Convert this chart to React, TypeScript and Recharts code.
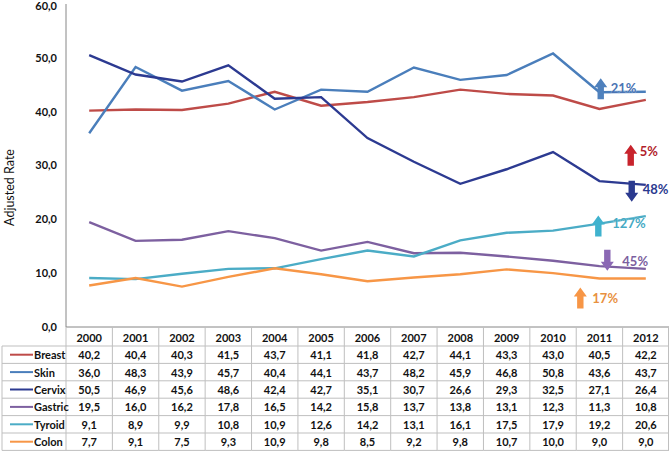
import React from 'react';
import { LineChart, Line, XAxis, YAxis, ReferenceDot } from 'recharts';

const years = ['2000', '2001', '2002', '2003', '2004', '2005', '2006', '2007', '2008', '2009', '2010', '2011', '2012'];
const breast = [40.2, 40.4, 40.3, 41.5, 43.7, 41.1, 41.8, 42.7, 44.1, 43.3, 43.0, 40.5, 42.2];
const skin = [36.0, 48.3, 43.9, 45.7, 40.4, 44.1, 43.7, 48.2, 45.9, 46.8, 50.8, 43.6, 43.7];
const cervix = [50.5, 46.9, 45.6, 48.6, 42.4, 42.7, 35.1, 30.7, 26.6, 29.3, 32.5, 27.1, 26.4];
const gastric = [19.5, 16.0, 16.2, 17.8, 16.5, 14.2, 15.8, 13.7, 13.8, 13.1, 12.3, 11.3, 10.8];
const tyroid = [9.1, 8.9, 9.9, 10.8, 10.9, 12.6, 14.2, 13.1, 16.1, 17.5, 17.9, 19.2, 20.6];
const colon = [7.7, 9.1, 7.5, 9.3, 10.9, 9.8, 8.5, 9.2, 9.8, 10.7, 10.0, 9.0, 9.0];
const yTicks = [0, 10, 20, 30, 40, 50, 60];

const seriesNames = ['Breast', 'Skin', 'Cervix', 'Gastric', 'Tyroid', 'Colon'];
const seriesValues = [breast, skin, cervix, gastric, tyroid, colon];
const seriesColors = ['#BE4B48', '#4A7EBB', '#2C3A91', '#7D60A0', '#4BACC6', '#F79646'];

// change annotations: label, anchor value (at 2011), direction
const annLabels = ['21%', '5%', '48%', '127%', '45%', '17%'];
const annValues = [44.25, 31.9, 25.2, 18.76, 12.39, 5.39];
const annUp = [true, true, false, true, false, true];
const annDx = [1.3, 31.3, 32.3, -1.1, 7.9, -19.1];
const annTextDx = [10, 9, 11, 14, 15, 12];
const annTextDy = [-1, -4.5, -2, -3, 0.5, 0];
const annArrowColors = ['#4F81BD', '#C8232C', '#2B3A8F', '#3FB2CE', '#8B68B4', '#F79646'];
const annTextColors = ['#4A74B4', '#B21E2C', '#2B3A8F', '#46AAC4', '#7C5FA0', '#E8913F'];

const data = years.map((y, i) => {
  const row: any = { year: y };
  seriesNames.forEach((n, s) => {
    row[n] = seriesValues[s][i];
  });
  return row;
});

const CHART_W = 669;
const CHART_H = 451;
const Y_AXIS_W = 66;
const PLOT_W = CHART_W - Y_AXIS_W;
const COL_W = PLOT_W / years.length;
const HEADER_H = 19;
const ROW_H = 17.4;
const BORDER = '#BFBFBF';
const AXIS = '#868686';
const FONT = 'Lato, "DejaVu Sans", sans-serif';

const fmt = (v: number) => v.toFixed(1).replace('.', ',');

const TableTick = (props: any) => {
  const { x, y, payload } = props;
  const i = payload && typeof payload.index === 'number' ? payload.index : years.indexOf(payload.value);
  const left = x - COL_W / 2;
  const right = x + COL_W / 2;
  const bottom = y + HEADER_H + ROW_H * seriesNames.length;
  const items: any[] = [];
  items.push(<line key="vl" x1={left} y1={y} x2={left} y2={bottom} stroke={BORDER} strokeWidth={1} />);
  if (i === years.length - 1) {
    items.push(<line key="vr" x1={right - 0.5} y1={y} x2={right - 0.5} y2={bottom} stroke={BORDER} strokeWidth={1} />);
  }
  items.push(
    <text key="hdr" x={x} y={y + HEADER_H / 2 + 1} textAnchor="middle" dominantBaseline="central"
      fontFamily={FONT} fontWeight={700} fontSize={11} fill="#111">{payload.value}</text>
  );
  for (let r = 0; r <= seriesNames.length; r++) {
    const ly = y + HEADER_H + r * ROW_H;
    items.push(<line key={'h' + r} x1={left} y1={ly} x2={right} y2={ly} stroke={BORDER} strokeWidth={1} />);
  }
  seriesNames.forEach((n, r) => {
    items.push(
      <text key={'v' + r} x={x} y={y + HEADER_H + r * ROW_H + ROW_H / 2} textAnchor="middle" dominantBaseline="central"
        fontFamily={FONT} fontWeight={700} fontSize={11} fill="#111">{fmt(seriesValues[r][i])}</text>
    );
  });
  if (i === 0) {
    const lx = 2;
    items.push(<line key="ll" x1={lx} y1={y + HEADER_H} x2={lx} y2={bottom} stroke={BORDER} strokeWidth={1} />);
    for (let r = 0; r <= seriesNames.length; r++) {
      const ly = y + HEADER_H + r * ROW_H;
      items.push(<line key={'lh' + r} x1={lx} y1={ly} x2={left} y2={ly} stroke={BORDER} strokeWidth={1} />);
    }
    seriesNames.forEach((n, r) => {
      const cy = y + HEADER_H + r * ROW_H + ROW_H / 2;
      items.push(<line key={'lg' + r} x1={lx + 8} y1={cy} x2={lx + 31} y2={cy} stroke={seriesColors[r]} strokeWidth={2} />);
      items.push(
        <text key={'ln' + r} x={lx + 32} y={cy} dominantBaseline="central"
          fontFamily={FONT} fontWeight={700} fontSize={11} fill="#111">{n}</text>
      );
    });
  }
  return <g>{items}</g>;
};

const makeArrowShape = (k: number) => (p: any) => {
  const cx = p.cx + annDx[k];
  const cy = p.cy;
  const h = 21;
  const headH = 9;
  const headW = 6.5;
  const shaftW = 3.2;
  let pts: string;
  if (annUp[k]) {
    const top = cy - h / 2;
    const hb = top + headH;
    const bot = cy + h / 2;
    pts = `${cx},${top} ${cx + headW},${hb} ${cx + shaftW},${hb} ${cx + shaftW},${bot} ${cx - shaftW},${bot} ${cx - shaftW},${hb} ${cx - headW},${hb}`;
  } else {
    const bot = cy + h / 2;
    const hb = bot - headH;
    const top = cy - h / 2;
    pts = `${cx},${bot} ${cx + headW},${hb} ${cx + shaftW},${hb} ${cx + shaftW},${top} ${cx - shaftW},${top} ${cx - shaftW},${hb} ${cx - headW},${hb}`;
  }
  return (
    <g>
      <polygon points={pts} fill={annArrowColors[k]} />
      <text x={cx + annTextDx[k]} y={cy + annTextDy[k]} dominantBaseline="central"
        fontFamily={FONT} fontWeight={700} fontSize={13} fill={annTextColors[k]}
        stroke="#ffffff" strokeWidth={0.6} strokeOpacity={0.6} paintOrder="stroke">{annLabels[k]}</text>
    </g>
  );
};

const YLabel = (p: any) => {
  const vb = p.viewBox || { x: 0, y: 4, width: 66, height: 323 };
  const cx = vb.x + 9;
  const cy = vb.y + vb.height / 2 + 22;
  return (
    <text x={cx} y={cy} transform={`rotate(-90, ${cx}, ${cy})`} textAnchor="middle" dominantBaseline="central"
      fontFamily={FONT} fontSize={12.5} fill="#111">Adjusted Rate</text>
  );
};

export default function App() {
  return (
    <div style={{ position: 'absolute', left: 0, top: 0, width: CHART_W, height: CHART_H, background: '#fff' }}>
      <LineChart width={CHART_W} height={CHART_H} data={data} margin={{ top: 4, right: 0, bottom: 0, left: 0 }}>
        <XAxis dataKey="year" interval={0} tickLine={false} tickSize={0} tickMargin={0}
          axisLine={{ stroke: AXIS }} height={CHART_H - 327}
          padding={{ left: COL_W / 2, right: COL_W / 2 }} tick={<TableTick />} />
        <YAxis domain={[0, 60]} ticks={yTicks} width={Y_AXIS_W} tickLine={false} tickSize={0} tickMargin={9}
          axisLine={{ stroke: AXIS }} tickFormatter={(v: number) => fmt(v)}
          tick={{ fontFamily: FONT, fontWeight: 700, fontSize: 11, fill: '#111' }}
          label={{ content: (p: any) => <YLabel {...p} /> }} />
        {seriesNames.map((n, s) => (
          <Line key={n} type="linear" dataKey={n} stroke={seriesColors[s]} strokeWidth={2.4}
            dot={false} activeDot={false} isAnimationActive={false} />
        ))}
        {annLabels.map((l, k) => (
          <ReferenceDot key={l} x="2011" y={annValues[k]} ifOverflow="visible" shape={makeArrowShape(k)} />
        ))}
      </LineChart>
    </div>
  );
}
